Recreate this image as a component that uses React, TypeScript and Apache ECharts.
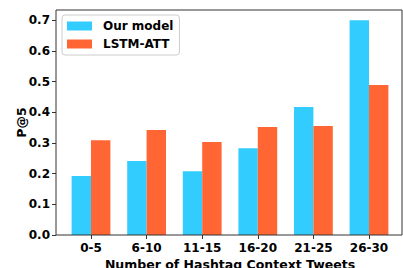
import React, { useEffect, useRef } from "react";
import * as echarts from "echarts";

const categories = ["0-5", "6-10", "11-15", "16-20", "21-25", "26-30"];
const ourModel = [0.192, 0.241, 0.208, 0.283, 0.417, 0.7];
const lstmAtt = [0.309, 0.342, 0.303, 0.352, 0.355, 0.489];
const yTicks = [0, 0.1, 0.2, 0.3, 0.4, 0.5, 0.6, 0.7];

const FONT = "DejaVu Sans";

export default function App() {
  const ref = useRef<HTMLDivElement>(null);
  useEffect(() => {
    if (!ref.current) return;
    const chart = echarts.init(ref.current, null, { renderer: "svg" });
    chart.setOption({
      animation: false,
      textStyle: { fontFamily: FONT },
      grid: { left: 63.2, right: 6.2, top: 10, bottom: 33, containLabel: false, outerBoundsMode: "none" },
      legend: {
        orient: "vertical",
        left: 62,
        top: 15,
        padding: [4, 6, 4, 5],
        itemGap: 4,
        itemWidth: 25,
        itemHeight: 9,
        icon: "rect",
        borderColor: "#cccccc",
        borderWidth: 1,
        borderRadius: 3,
        backgroundColor: "#ffffff",
        textStyle: {
          fontFamily: FONT,
          fontSize: 12,
          fontWeight: "bold",
          color: "#000",
          padding: [0, 0, 0, 6],
          lineHeight: 14,
        },
        data: ["Our model", "LSTM-ATT"],
      },
      xAxis: {
        type: "category",
        data: categories,
        axisLine: { show: false },
        axisTick: { show: true, alignWithLabel: true, length: 4, lineStyle: { color: "#333" } },
        axisLabel: {
          margin: 7,
          fontFamily: FONT,
          fontSize: 12,
          fontWeight: "bold",
          color: "#000",
        },
        name: "Number of Hashtag Context Tweets",
        nameLocation: "middle",
        nameGap: 22.5,
        nameMoveOverlap: false,
        nameTextStyle: { fontFamily: FONT, fontSize: 12.5, fontWeight: "bold", color: "#000" },
      },
      yAxis: {
        type: "value",
        min: 0,
        max: 0.733,
        interval: 0.1,
        offset: 7.2,
        splitLine: { show: false },
        axisLine: { show: false },
        axisTick: { show: true, length: 4, lineStyle: { color: "#333" }, customValues: yTicks },
        axisLabel: {
          margin: 6,
          fontFamily: FONT,
          fontSize: 12,
          fontWeight: "bold",
          color: "#000",
          customValues: yTicks,
          formatter: (v: number) => v.toFixed(1),
        },
        name: "P@5",
        nameLocation: "middle",
        nameGap: 28,
        nameRotate: 90,
        nameMoveOverlap: false,
        nameTextStyle: { fontFamily: FONT, fontSize: 12.5, fontWeight: "bold", color: "#000" },
      },
      series: [
        {
          name: "Our model",
          type: "bar",
          data: ourModel,
          barWidth: 19.4,
          barGap: "0%",
          itemStyle: { color: "#33ccff" },
        },
        {
          name: "LSTM-ATT",
          type: "bar",
          data: lstmAtt,
          barWidth: 19.4,
          barGap: "0%",
          itemStyle: { color: "#ff6633" },
        },
      ],
      graphic: [
        {
          type: "rect",
          shape: { x: 56, y: 10, width: 346, height: 225 },
          style: { fill: "none", stroke: "#333", lineWidth: 1 },
          z: 10,
          silent: true,
        },
      ],
    });
    return () => chart.dispose();
  }, []);
  return (
    <div
      ref={ref}
      style={{ position: "fixed", left: 0, top: 0, width: 403, height: 268, background: "#fff" }}
    />
  );
}
